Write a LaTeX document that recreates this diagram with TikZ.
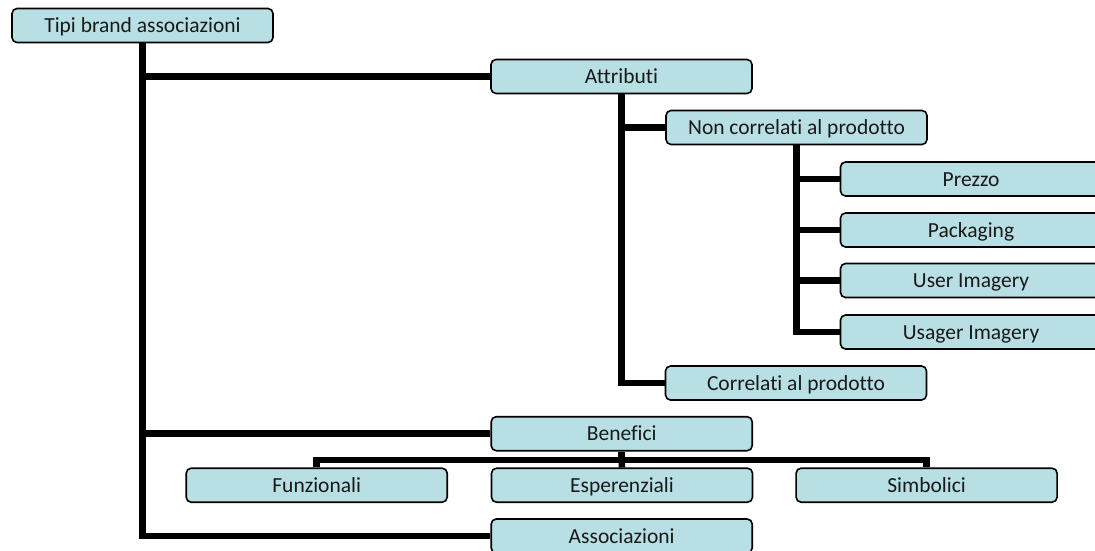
\documentclass[tikz,border=0pt]{standalone}
\usepackage{fontspec}
\setmainfont{Carlito}[RawFeature=-liga]
\definecolor{boxfill}{RGB}{184,223,228}
\begin{document}
\begin{tikzpicture}[x=1pt,y=-1pt,
  catbox/.style={draw=black, line width=1.6pt, rounded corners=5pt, fill=boxfill,
    minimum width=261pt, minimum height=34pt, inner sep=0pt,
    text height=16.5pt, text depth=2.5pt,
    font=\fontsize{21.5}{25}\selectfont, text=black!90},
  link/.style={line width=6.5pt, draw=black}]
\useasboundingbox (0,0) rectangle (1095,550);
\clip (0,0) rectangle (1095,550);

% hierarchy boxes
\node[catbox] (root)   at (142.5,25.5) {Tipi brand associazioni};
\node[catbox] (attr)   at (621.5,76.5) {Attributi};
\node[catbox] (nonc)   at (796.5,127.5) {Non correlati al prodotto};
\node[catbox] (prezzo) at (971,179) {Prezzo};
\node[catbox] (pack)   at (971,230) {Packaging};
\node[catbox] (user)   at (971,280.5) {User Imagery};
\node[catbox] (usager) at (971,332) {Usager Imagery};
\node[catbox] (corr)   at (796,383) {Correlati al prodotto};
\node[catbox] (benef)  at (621.7,433.7) {Benefici};
\node[catbox] (funz)   at (316.7,485.2) {Funzionali};
\node[catbox] (esper)  at (622,485.2) {Esperenziali};
\node[catbox] (simb)   at (926.6,485.2) {Simbolici};
\node[catbox] (assoc)  at (621.7,536) {Associazioni};

\coordinate (bus) at (621.7,460);

% elbow connectors
\draw[link] (root.south) |- (attr.west);
\draw[link] (root.south) |- (benef.west);
\draw[link] (root.south) |- (assoc.west);
\draw[link] (attr.south) |- (nonc.west);
\draw[link] (attr.south) |- (corr.west);
\draw[link] (nonc.south) |- (prezzo.west);
\draw[link] (nonc.south) |- (pack.west);
\draw[link] (nonc.south) |- (user.west);
\draw[link] (nonc.south) |- (usager.west);
\draw[link] (benef.south) -- (bus);
\draw[link] (bus) -| (funz.north);
\draw[link] (bus) -- (esper.north);
\draw[link] (bus) -| (simb.north);
\end{tikzpicture}
\end{document}
